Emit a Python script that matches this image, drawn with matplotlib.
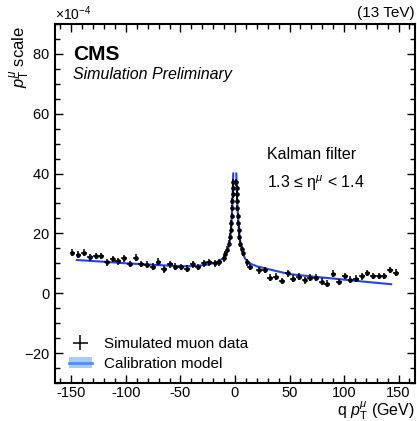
import matplotlib
matplotlib.use('Agg')
import matplotlib.pyplot as plt
from matplotlib.patches import Patch
from matplotlib.lines import Line2D
from matplotlib.ticker import MultipleLocator, ScalarFormatter

plt.rcParams['font.family'] = ['Liberation Sans', 'DejaVu Sans']
plt.rcParams['mathtext.fontset'] = 'custom'
plt.rcParams['mathtext.rm'] = 'Liberation Sans'
plt.rcParams['mathtext.it'] = 'Liberation Sans:italic'

##### DATA (scale in units of 1e-4) #####
data_x = [-149, -143.5, -138.3, -133, -127.9, -122.6, -117.4, -112.2, -107, -101.8,
          -96.6, -91.1, -85.9, -80.6, -75.4, -70.2, -65, -59.8, -54.6, -49.3,
          -44.2, -38.9, -33.8, -28.8, -23.9, -18.1, -14.5,
          -10.5, -8.8, -7.4, -5.8, -4.6, -4.0, -3.5, -3.1, -2.7, -2.4, -2.2, -2.0, -1.9,
          1.3, 1.4, 1.6, 1.8, 2.1, 2.5, 2.9, 3.4, 4.0, 5.0, 6.1, 7.3, 10.7,
          14.0, 21.8, 27.4, 32.2, 37.4, 42.9, 48.3, 53.5, 58.6, 63.8,
          69, 74.2, 79.4, 84.6, 90.2, 95.4, 100.6, 105.8, 111, 116.2,
          121.4, 126.7, 131.8, 137.1, 142.3, 147.8]
data_y = [13.6, 12.9, 13.6, 12.0, 12.5, 12.5, 10.3, 11.4, 10.6, 11.6,
          9.7, 11.9, 9.8, 9.5, 8.9, 10.5, 8.0, 9.6, 8.9, 8.7,
          8.2, 9.6, 8.7, 10.0, 10.3, 10.0, 10.3,
          11.6, 13.0, 14.6, 16.6, 18.9, 21.2, 23.4, 25.8, 28.5, 30.8, 33.0, 35.0, 37.0,
          37.0, 35.0, 33.0, 30.8, 28.5, 25.8, 23.4, 21.2, 18.9, 16.6, 14.8, 13.4, 10.3,
          8.7, 7.6, 7.7, 5.2, 5.5, 4.1, 6.6, 4.9, 5.5, 4.3,
          5.2, 5.2, 3.9, 3.2, 6.5, 3.8, 5.7, 4.5, 4.9, 5.6,
          6.7, 5.8, 5.8, 5.8, 7.8, 6.9]
data_xerr = [2.6] * 27 + [0.3] * 26 + [2.6] * 26
data_yerr = [1.1] * 79

model_left_x = [-145, -120, -100, -80, -60, -45, -35, -25, -18, -14, -11, -9, -7.5,
                -6, -5, -4.2, -3.6, -3.0, -2.5, -2.1, -1.8, -1.6]
model_left_y = [11.1, 10.5, 10.0, 9.6, 9.2, 9.0, 9.1, 9.6, 10.2, 10.9, 11.7, 12.6, 13.6,
                15.2, 16.8, 19.0, 21.5, 25.0, 28.8, 33.0, 37.0, 40.0]
model_right_x = [1.2, 1.5, 1.8, 2.2, 2.5, 3.0, 3.7, 4.6, 5.5, 7.5, 9.2, 12, 15.3, 20,
                 24.5, 30, 36.8, 49.7, 70, 95.7, 120, 143.2]
model_right_y = [40.0, 36.0, 33.1, 29.5, 27.5, 24.5, 21.3, 17.8, 15.6, 13.0, 11.6, 10.4,
                 9.7, 9.0, 8.6, 8.1, 7.5, 6.4, 5.6, 4.7, 3.8, 3.0]

xtick_vals = [-150, -100, -50, 0, 50, 100, 150]
xtick_labels = ['-150', '-100', '-50', '0', '50', '100', '150']

scale = 1e-4
fig = plt.figure(figsize=(4.17, 4.21), dpi=100)
ax = fig.add_axes([0.132, 0.0903, 0.863, 0.853])

line_col = '#1f44f2'
ax.plot(model_left_x, [v * scale for v in model_left_y], color=line_col, lw=1.5)
ax.plot(model_right_x, [v * scale for v in model_right_y], color=line_col, lw=1.5)

ax.errorbar(data_x, [v * scale for v in data_y], xerr=data_xerr,
            yerr=[v * scale for v in data_yerr], fmt='o', color='black',
            ms=2.3, elinewidth=1.1, capsize=0)

ax.set_xlim(-165, 165)
ax.set_ylim(-30 * scale, 90 * scale)
ax.set_xticks(xtick_vals)
ax.set_xticklabels(xtick_labels)
ax.xaxis.set_minor_locator(MultipleLocator(10))
ax.yaxis.set_major_locator(MultipleLocator(20 * scale))
ax.yaxis.set_minor_locator(MultipleLocator(5 * scale))
fmt = ScalarFormatter(useMathText=True)
fmt.set_powerlimits((-4, -4))
ax.yaxis.set_major_formatter(fmt)
ax.yaxis.get_offset_text().set_fontsize(10)

ax.tick_params(which='both', direction='in', top=True, right=True, labelsize=10.5)
ax.tick_params(axis='x', pad=2)
ax.tick_params(which='major', length=6, width=1)
ax.tick_params(which='minor', length=3.5, width=1)
for s in ax.spines.values():
    s.set_linewidth(1.5)

fig.text(0.048, 0.937, r'$p_\mathrm{T}^\mu$ scale', fontsize=12, rotation=90,
         ha='center', va='top')
fig.text(0.995, 0.014, r'q $p_\mathrm{T}^\mu$ (GeV)', fontsize=11.5, ha='right', va='baseline')

ax.text(0.05, 0.94, 'CMS', transform=ax.transAxes, fontsize=15, fontweight='bold', va='top')
ax.text(0.05, 0.88, 'Simulation Preliminary', transform=ax.transAxes, fontsize=11.5,
        style='italic', va='top')
ax.text(1.0, 1.01, '(13 TeV)', transform=ax.transAxes, fontsize=11, ha='right', va='bottom')
ax.text(0.59, 0.635, 'Kalman filter', transform=ax.transAxes, fontsize=11.5, va='center')
ax.text(0.59, 0.555, r'1.3 ≤ η$^\mu$ < 1.4', transform=ax.transAxes, fontsize=11.5, va='center')

h_data = ax.errorbar([], [], xerr=[], yerr=[], fmt='none', color='black', elinewidth=1.1)
h_model = (Patch(facecolor='#a6cbff', edgecolor='none'),
           Line2D([], [], color='#4f8cff', lw=2))
ax.legend([h_data, h_model], ['Simulated muon data', 'Calibration model'],
          loc='lower left', frameon=False, fontsize=11, bbox_to_anchor=(0.0, -0.005),
          handlelength=1.5, handletextpad=0.8, labelspacing=0.4)

fig.savefig('out.png', dpi=100)
